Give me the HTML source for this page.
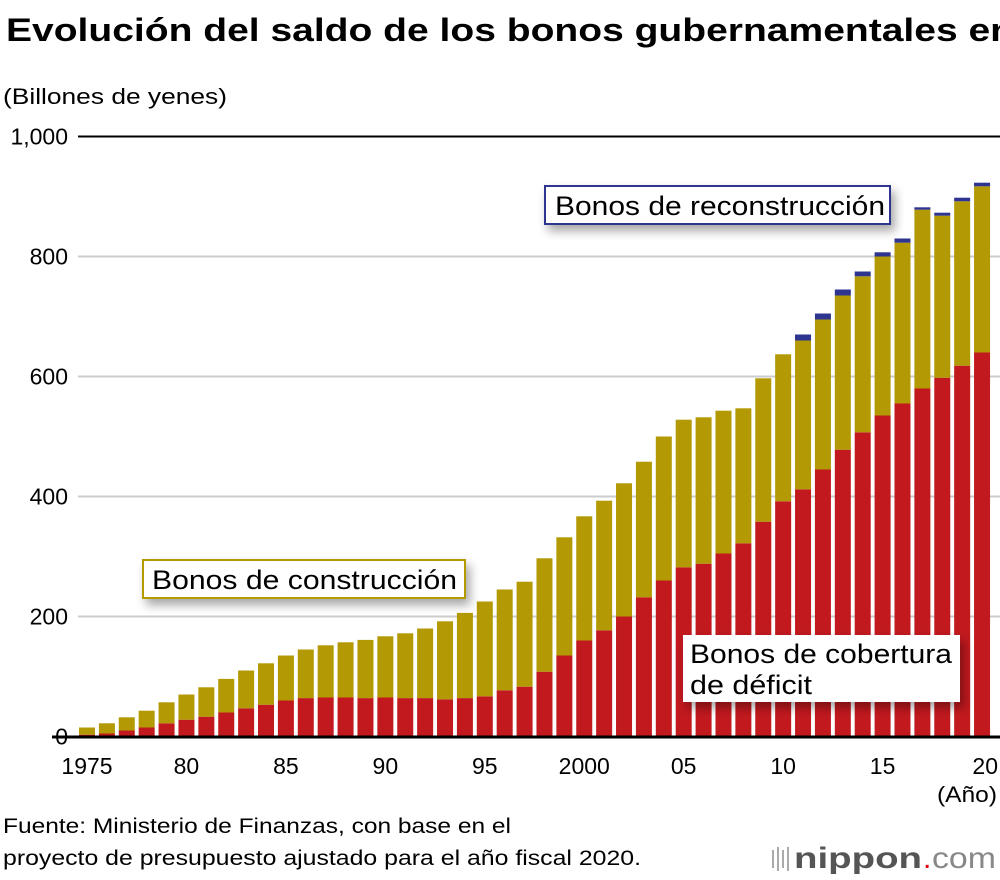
<!DOCTYPE html>
<html><head><meta charset="utf-8"><style>
html,body{margin:0;padding:0;background:#fff;}
svg{display:block;font-family:"Liberation Sans",Arial,sans-serif;}
</style></head><body>
<svg id="chart" width="1000" height="880" viewBox="0 0 1000 880">
<defs>
<filter id="sh" x="-10%" y="-30%" width="130%" height="190%"><feDropShadow dx="4" dy="6" stdDeviation="5" flood-color="#000" flood-opacity="0.35"/></filter>
</defs>
<text x="6" y="41" font-size="32" font-weight="bold" fill="#000" textLength="1008" lengthAdjust="spacingAndGlyphs">Evolución del saldo de los bonos gubernamentales en</text>
<text x="3" y="104" font-size="22" fill="#000" textLength="224" lengthAdjust="spacingAndGlyphs">(Billones de yenes)</text>
<g id="grid"></g>
<g id="bars"></g>
<line x1="52" y1="737" x2="1000" y2="737" stroke="#000" stroke-width="3"/>
<g id="ylabels"></g>
<g id="xlabels"></g>
<text x="997" y="802" font-size="22" text-anchor="end" textLength="60" lengthAdjust="spacingAndGlyphs">(Año)</text>
<g>
<rect x="545" y="186" width="345" height="38" fill="#fff" stroke="#2e3590" stroke-width="2" filter="url(#sh)"/>
<text x="555" y="215" font-size="27" textLength="330" lengthAdjust="spacingAndGlyphs">Bonos de reconstrucción</text>
</g>
<g>
<rect x="143" y="560" width="322" height="38" fill="#fff" stroke="#b39a04" stroke-width="2" filter="url(#sh)"/>
<text x="152" y="589" font-size="27" textLength="305" lengthAdjust="spacingAndGlyphs">Bonos de construcción</text>
</g>
<g>
<rect x="683" y="635" width="277" height="67" fill="#fff" filter="url(#sh)"/>
<text x="690" y="663" font-size="27" textLength="262" lengthAdjust="spacingAndGlyphs">Bonos de cobertura</text>
<text x="690" y="694" font-size="27" textLength="122" lengthAdjust="spacingAndGlyphs">de déficit</text>
</g>
<text x="3" y="833" font-size="21" textLength="508" lengthAdjust="spacingAndGlyphs">Fuente: Ministerio de Finanzas, con base en el</text>
<text x="3" y="865" font-size="21" textLength="638" lengthAdjust="spacingAndGlyphs">proyecto de presupuesto ajustado para el año fiscal 2020.</text>
<g>
<g fill="#aaa"><rect x="772" y="850" width="2" height="18"/><rect x="777" y="847" width="2" height="24"/><rect x="782" y="850" width="2" height="18"/><rect x="787" y="847" width="2" height="24"/></g>
<text x="794" y="868" font-size="30" fill="#555" font-weight="bold" textLength="128" lengthAdjust="spacingAndGlyphs">nippon</text>
<text x="923" y="868" font-size="30" fill="#e60012">.</text>
<text x="932" y="868" font-size="30" fill="#888" textLength="64" lengthAdjust="spacingAndGlyphs">com</text>
</g>
</svg>
<script>
const years=[];for(let y=1975;y<=2020;y++)years.push(y);
const deficit=[3,5,10,15,22,28,33,40,47,53,60,64,65,65,64,65,64,64,62,64,67,77,83,108,135,160,177,200,232,260,282,288,305,322,358,392,412,445,478,507,535,555,580,598,618,640];
const construction=[12,17,22,28,35,42,49,56,63,69,75,81,87,92,97,102,108,116,130,142,158,168,175,189,197,207,216,222,226,240,246,244,238,225,239,245,248,250,257,260,265,268,298,270,274,277];
const reconstruction=[0,0,0,0,0,0,0,0,0,0,0,0,0,0,0,0,0,0,0,0,0,0,0,0,0,0,0,0,0,0,0,0,0,0,0,0,10,10,10,8,7,7,4,5,6,6];
const yTicks=[0,200,400,600,800,1000];
const yTickLabels=["0","200","400","600","800","1,000"];
const xTickYears=[1975,1980,1985,1990,1995,2000,2005,2010,2015,2020];
const xTickLabels=["1975","80","85","90","95","2000","05","10","15","20"];
const NS="http://www.w3.org/2000/svg";
const y0=736.5,yk=0.6;
function ys(v){return y0-v*yk;}
function xs(yr){return 87+(yr-1975)*19.89;}
const bw=16;
function mk(tag,attrs,parent){const e=document.createElementNS(NS,tag);for(const k in attrs)e.setAttribute(k,attrs[k]);parent.appendChild(e);return e;}
const grid=document.getElementById('grid'),bars=document.getElementById('bars'),yl=document.getElementById('ylabels'),xl=document.getElementById('xlabels');
yTicks.forEach((t,i)=>{
  if(t>0){const l=mk('line',{x1:78,x2:1000,y1:ys(t),y2:ys(t),stroke:t===1000?'#000':'#ccc','stroke-width':2},grid);
  
  }
  const tx=mk('text',{x:68,y:ys(t)+8,'font-size':23,'text-anchor':'end'},yl);tx.textContent=yTickLabels[i];
  
  
});
xTickYears.forEach((yr,i)=>{
  const last=i===xTickYears.length-1;
  const tx=mk('text',{x:last?998:xs(yr),y:774,'font-size':23,'text-anchor':last?'end':'middle'},xl);tx.textContent=xTickLabels[i];
  
  
});
years.forEach((yr,i)=>{
  const x=xs(yr)-bw/2;
  const d=deficit[i],c=construction[i],r=reconstruction[i];
  const a=mk('rect',{x:x,y:ys(d),width:bw,height:d*yk,fill:'#c1191e'},bars);
  
  
  const b=mk('rect',{x:x,y:ys(d+c),width:bw,height:c*yk,fill:'#b39a04'},bars);
  
  
  if(r>0){const e=mk('rect',{x:x,y:ys(d+c+r),width:bw,height:r*yk,fill:'#2e3590'},bars);
  
  }
});
</script>
</body></html>
